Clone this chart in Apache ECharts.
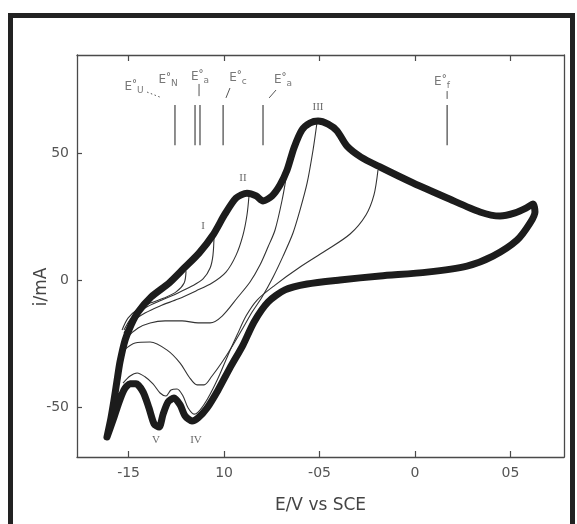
<!DOCTYPE html>
<html><head><meta charset="utf-8">
<script src="https://cdn.jsdelivr.net/npm/echarts@6/dist/echarts.min.js"></script>
<style>html,body{margin:0;padding:0;background:#fff}#c{width:577px;height:524px}</style>
</head><body><div id="c"></div>
<script>
// ---- data (E in V vs SCE, i in mA) ----
const xTicks = [-1.5, -1.0, -0.5, 0, 0.5];
const xTickLabels = ['-15', '10', '-05', '0', '05'];
const yTicks = [-50, 0, 50];
const yTickLabels = ['-50', '0', '50'];

// full cyclic voltammogram (thick curve)
const cvOuter = [[-1.613,-61.6],[-1.592,-54.1],[-1.576,-47.0],[-1.560,-39.2],[-1.545,-32.1],[-1.518,-23.4],[-1.487,-17.5],[-1.450,-12.4],[-1.382,-6.5],[-1.288,-1.0],[-1.209,4.9],[-1.131,10.8],[-1.058,17.9],[-0.995,26.2],[-0.937,32.5],[-0.880,34.4],[-0.832,33.3],[-0.796,31.3],[-0.749,33.3],[-0.707,37.6],[-0.670,43.5],[-0.634,52.2],[-0.592,59.3],[-0.550,62.0],[-0.508,62.8],[-0.455,61.6],[-0.408,58.9],[-0.356,52.9],[-0.283,48.6],[-0.183,44.7],[-0.010,38.4],[0.168,32.5],[0.340,27.0],[0.445,25.4],[0.524,26.6],[0.581,28.5],[0.618,30.1],[0.628,27.0],[0.602,22.6],[0.534,15.9],[0.408,9.6],[0.272,5.7],[0.063,3.3],[-0.183,1.8],[-0.393,0.2],[-0.565,-1.4],[-0.681,-3.7],[-0.770,-8.5],[-0.843,-16.3],[-0.901,-25.4],[-0.969,-34.4],[-1.031,-43.1],[-1.089,-50.2],[-1.136,-54.1],[-1.168,-55.3],[-1.204,-53.3],[-1.230,-49.0],[-1.262,-46.3],[-1.293,-47.8],[-1.319,-52.6],[-1.340,-57.7],[-1.366,-56.5],[-1.393,-50.2],[-1.424,-43.9],[-1.461,-40.7],[-1.492,-40.7],[-1.524,-43.1],[-1.555,-49.0],[-1.581,-54.9],[-1.613,-61.6]];

// reverse scans from intermediate switching potentials (thin curves)
const rev1 = [[-1.199,3.7],[-1.209,-1.0],[-1.251,-4.5],[-1.314,-6.9],[-1.387,-8.9],[-1.450,-11.2],[-1.503,-14.8],[-1.534,-19.5]];
const rev2 = [[-1.052,18.3],[-1.058,10.0],[-1.073,4.9],[-1.110,0.6],[-1.168,-2.2],[-1.241,-4.9],[-1.325,-7.7],[-1.414,-10.8],[-1.482,-14.4],[-1.524,-19.5]];
const rev3 = [[-0.869,33.7],[-0.880,25.8],[-0.901,17.9],[-0.937,10.0],[-0.990,3.3],[-1.063,-1.0],[-1.147,-4.1],[-1.241,-7.3],[-1.335,-10.0],[-1.414,-12.8],[-1.482,-16.3],[-1.524,-20.7]];
const rev4 = [[-0.670,42.7],[-0.696,31.7],[-0.733,19.9],[-0.770,13.2],[-0.812,6.1],[-0.864,-0.6],[-0.927,-6.5],[-1.010,-14.0],[-1.073,-16.7],[-1.136,-16.7],[-1.220,-15.9],[-1.309,-15.9],[-1.387,-16.7],[-1.450,-18.7],[-1.503,-22.2],[-1.534,-26.6]];
const rev5 = [[-0.513,62.4],[-0.534,51.4],[-0.565,38.4],[-0.602,27.8],[-0.639,18.7],[-0.691,9.6],[-0.743,1.4],[-0.801,-6.5],[-0.853,-12.4],[-0.901,-18.7],[-0.953,-25.4],[-1.010,-32.1],[-1.063,-37.6],[-1.105,-41.1],[-1.141,-41.1],[-1.183,-38.0],[-1.230,-32.5],[-1.298,-27.4],[-1.387,-24.2],[-1.466,-24.6],[-1.524,-27.4]];
const rev6 = [[-0.194,43.5],[-0.215,33.7],[-0.257,25.8],[-0.340,18.3],[-0.471,11.6],[-0.602,5.3],[-0.733,-1.8],[-0.827,-7.7],[-0.885,-14.0],[-0.932,-21.5],[-0.979,-29.3],[-1.031,-38.4],[-1.084,-46.3],[-1.126,-51.0],[-1.157,-52.6],[-1.188,-50.2],[-1.215,-45.5],[-1.246,-42.7],[-1.278,-43.1],[-1.304,-45.5],[-1.335,-44.3],[-1.372,-40.7],[-1.414,-37.9],[-1.455,-36.4],[-1.492,-37.6],[-1.529,-40.4]];
const reversals = [rev1, rev2, rev3, rev4, rev5, rev6];

// standard potentials marked at the top
const markerE = [-1.257, -1.152, -1.126, -1.005, -0.796, 0.168];
const markerTop = 69.1, markerBottom = 53.3;
const markerNames = [
  {sub:'U', E:-1.471, i:76.2},
  {sub:'N', E:-1.293, i:78.9},
  {sub:'a', E:-1.126, i:80.1},
  {sub:'c', E:-0.927, i:79.7},
  {sub:'a', E:-0.691, i:78.9},
  {sub:'f', E:0.141, i:78.1}
];
// leader strokes from labels to marker lines
const leaders = [
  {pts:[[-1.403,74.2],[-1.335,72.2]], dotted:true},
  {pts:[[-1.131,77.4],[-1.131,72.6]], dotted:false},
  {pts:[[-0.969,75.8],[-0.990,71.9]], dotted:false},
  {pts:[[-0.728,75.0],[-0.764,71.9]], dotted:false},
  {pts:[[0.168,74.6],[0.168,71.5]], dotted:false}
];
// peak labels
const peakNames = ['I', 'II', 'III', 'IV', 'V'];
const peakPos = [[-1.110,21.5],[-0.901,40.4],[-0.508,68.3],[-1.147,-62.8],[-1.356,-62.8]];

// ---- chart ----
const X0 = -1.77, X1 = 0.78, Y0 = -69.5, Y1 = 88.8;
const FONT = 'DejaVu Sans';
const axisCol = '#4a4a4a';
function lab(ticks, labels) {
  return v => { const k = ticks.findIndex(t => Math.abs(t - v) < 1e-6); return k >= 0 ? labels[k] : ''; };
}
const series = [];
reversals.forEach(r => series.push({
  type:'line', data:r, showSymbol:false, smooth:0.3, silent:true,
  lineStyle:{width:1.1, color:'#333'}, z:3
}));
series.push({
  type:'line', data:cvOuter, showSymbol:false, smooth:0.25, silent:true,
  lineStyle:{width:7, color:'#1c1c1c', cap:'round', join:'round'}, z:5
});
markerE.forEach(e => series.push({
  type:'line', data:[[e, markerBottom],[e, markerTop]], showSymbol:false, silent:true,
  lineStyle:{width:1.2, color:'#444'}, z:3
}));
leaders.forEach(l => series.push({
  type:'line', data:l.pts, showSymbol:false, silent:true,
  lineStyle:{width:1, color:'#555', type: l.dotted ? [1.5,2.5] : 'solid'}, z:3
}));
series.push({
  type:'scatter', symbolSize:0, silent:true, z:6,
  data: markerNames.map(m => ({value:[m.E, m.i], sub:m.sub})),
  label:{show:true, position:'inside', color:'#555', fontFamily:FONT,
    formatter: p => '{m|E}{d|°}{s|' + p.data.sub + '}',
    rich:{m:{fontSize:12, color:'#555', fontFamily:FONT, lineHeight:16},
          d:{fontSize:10, color:'#333', verticalAlign:'top', fontFamily:FONT, lineHeight:16},
          s:{fontSize:9, color:'#555', verticalAlign:'bottom', fontFamily:FONT, lineHeight:16}}}
});
series.push({
  type:'scatter', symbolSize:0, silent:true, z:6,
  data: peakPos.map((p, k) => ({value:p, name:peakNames[k]})),
  label:{show:true, position:'inside', formatter:'{b}', color:'#444',
    fontFamily:'Liberation Serif', fontSize:11}
});

const option = {
  animation:false,
  backgroundColor:'#fff',
  grid:{left:77, right:13, top:55, bottom:67},
  xAxis:[{
    type:'value', min:X0, max:X1, position:'bottom',
    axisLine:{show:true, onZero:false, lineStyle:{color:axisCol, width:1.3}},
    axisTick:{show:true, inside:true, length:6, customValues:xTicks, lineStyle:{color:axisCol, width:1.2}},
    axisLabel:{customValues:xTicks, formatter:lab(xTicks, xTickLabels), color:'#555', fontSize:14, fontFamily:FONT, margin:9},
    splitLine:{show:false},
    name:'E/V vs SCE', nameLocation:'middle', nameGap:40,
    nameTextStyle:{fontSize:17, color:'#444', fontFamily:FONT}
  },{
    type:'value', min:X0, max:X1, position:'top',
    axisLine:{show:true, onZero:false, lineStyle:{color:axisCol, width:1.3}},
    axisTick:{show:true, inside:true, length:6, customValues:xTicks, lineStyle:{color:axisCol, width:1.2}},
    axisLabel:{show:false}, splitLine:{show:false}
  }],
  yAxis:[{
    type:'value', min:Y0, max:Y1, position:'left',
    axisLine:{show:true, onZero:false, lineStyle:{color:axisCol, width:1.3}},
    axisTick:{show:true, inside:true, length:5, customValues:yTicks, lineStyle:{color:axisCol, width:1.2}},
    axisLabel:{customValues:yTicks, formatter:lab(yTicks, yTickLabels), color:'#555', fontSize:14, fontFamily:FONT, margin:8},
    splitLine:{show:false}
  },{
    type:'value', min:Y0, max:Y1, position:'right',
    axisLine:{show:true, onZero:false, lineStyle:{color:axisCol, width:1.3}},
    axisTick:{show:false}, axisLabel:{show:false}, splitLine:{show:false}
  }],
  graphic:[
    {type:'rect', shape:{x:10.5, y:15.5, width:562, height:540}, silent:true,
     style:{fill:'none', stroke:'#222', lineWidth:5}, z:10},
    {type:'text', x:42, y:287, rotation:Math.PI/2, silent:true,
     style:{text:'i/mA', fontSize:17, fill:'#444', fontFamily:FONT, align:'center', verticalAlign:'middle'}}
  ],
  series: series
};
const chart = echarts.init(document.getElementById('c'));
chart.setOption(option);
</script>
</body></html>
